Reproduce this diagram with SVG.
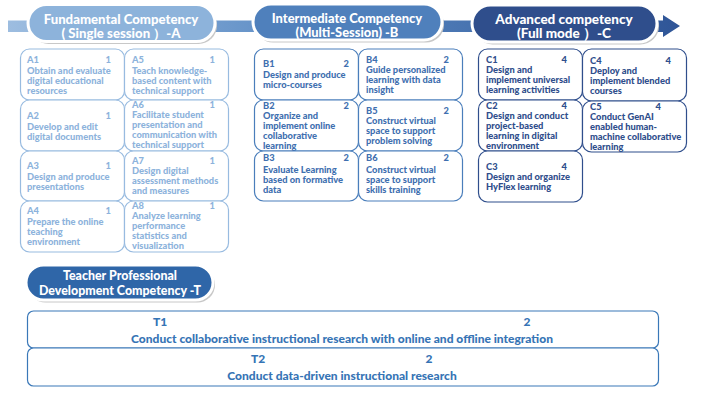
<svg xmlns="http://www.w3.org/2000/svg" width="703" height="404" viewBox="0 0 703 404">
<defs>
<linearGradient id="barg" x1="0" y1="0" x2="1" y2="0">
<stop offset="0" stop-color="#9dbde0"/>
<stop offset="0.45" stop-color="#5b8bc4"/>
<stop offset="1" stop-color="#2f5597"/>
</linearGradient>
<style>
text{font-family:Lato,"Liberation Sans",sans-serif;font-weight:900;}
.pt{fill:#ffffff;font-size:13.2px;text-anchor:middle;}
.pill{stroke:#ffffff;stroke-width:3;}
.sh{fill:#c8c8c8;}
.bx{fill:#ffffff;stroke-width:1.2;}
.ta{fill:#8db3dc;font-size:9.3px;}
.tb{fill:#3f70b0;font-size:9.3px;}
.tc{fill:#2f4e8c;font-size:9.3px;}
.ba{stroke:#98bbe0;}
.bb{stroke:#4a7ebb;}
.bc{stroke:#2f4e8c;}
.tt{fill:#3674b5;font-size:12px;}
.tbx{fill:#ffffff;stroke:#3a78b8;stroke-width:1.2;}
.n{text-anchor:end;}
</style>
</defs>
<rect width="703" height="404" fill="#ffffff"/>
<g id="connectors">
<path d="M8,20.5 H663 V15 L680,26 L663,37 V32 H8 Z" fill="url(#barg)"/>
</g>
<g id="pillA">
<rect class="sh" x="30" y="7" width="187" height="37" rx="18.5"/>
<rect class="pill" x="28" y="4.5" width="187" height="37" rx="18.5" fill="#8db3db"/>
<text class="pt" x="121" y="23.5">Fundamental Competency</text>
<text class="pt" x="121" y="38">( Single session ）-A</text>
</g>
<g id="pillB">
<rect class="sh" x="255" y="6.5" width="189" height="36" rx="18"/>
<rect class="pill" x="253" y="4" width="189" height="36" rx="18" fill="#4f80bc"/>
<text class="pt" x="347" y="22.5" style="font-size:12.9px">Intermediate Competency</text>
<text class="pt" x="347" y="37" style="font-size:12.9px">(Multi-Session)  -B</text>
</g>
<g id="pillC">
<rect class="sh" x="474" y="7.5" width="185" height="37" rx="18.5"/>
<rect class="pill" x="472" y="5" width="185" height="37" rx="18.5" fill="#2f4e8c"/>
<text class="pt" x="564" y="23.5" style="font-size:13.5px">Advanced competency</text>
<text class="pt" x="564" y="38" style="font-size:13.5px">(Full mode ）-C</text>
</g>

<g id="A1"><rect class="bx ba" x="20.5" y="49" width="104" height="51" rx="9"/>
<text class="ta" x="27" y="63">A1</text><text class="ta n" x="111" y="63">1</text>
<text class="ta" x="27" y="74">Obtain and evaluate</text><text class="ta" x="27" y="84">digital educational</text><text class="ta" x="27" y="94">resources</text></g>
<g id="A5"><rect class="bx ba" x="124.5" y="49" width="104" height="51" rx="9"/>
<text class="ta" x="132" y="63">A5</text><text class="ta n" x="215" y="63">1</text>
<text class="ta" x="132" y="74">Teach knowledge-</text><text class="ta" x="132" y="84">based content  with</text><text class="ta" x="132" y="94">technical support</text></g>
<g id="A2"><rect class="bx ba" x="20.5" y="100" width="104" height="51" rx="9"/>
<text class="ta" x="27" y="119">A2</text><text class="ta n" x="111" y="119">1</text>
<text class="ta" x="27" y="130">Develop and edit</text><text class="ta" x="27" y="140">digital  documents</text></g>
<g id="A6"><rect class="bx ba" x="124.5" y="100" width="104" height="51" rx="9"/>
<text class="ta" x="132" y="108">A6</text><text class="ta n" x="215" y="108">1</text>
<text class="ta" x="132" y="118">Facilitate student</text><text class="ta" x="132" y="128">presentation and</text><text class="ta" x="132" y="138">communication with</text><text class="ta" x="132" y="148">technical support</text></g>
<g id="A3"><rect class="bx ba" x="20.5" y="151" width="104" height="50" rx="9"/>
<text class="ta" x="27" y="169">A3</text><text class="ta n" x="111" y="169">1</text>
<text class="ta" x="27" y="180">Design and produce</text><text class="ta" x="27" y="190">presentations</text></g>
<g id="A7"><rect class="bx ba" x="124.5" y="151" width="104" height="50" rx="9"/>
<text class="ta" x="132" y="164">A7</text><text class="ta n" x="215" y="164">1</text>
<text class="ta" x="132" y="174">Design digital</text><text class="ta" x="132" y="184">assessment methods</text><text class="ta" x="132" y="194">and measures</text></g>
<g id="A4"><rect class="bx ba" x="20.5" y="201" width="104" height="51" rx="9"/>
<text class="ta" x="27" y="214">A4</text><text class="ta n" x="111" y="214">1</text>
<text class="ta" x="27" y="225">Prepare the online</text><text class="ta" x="27" y="235">teaching</text><text class="ta" x="27" y="245">environment</text></g>
<g id="A8"><rect class="bx ba" x="124.5" y="201" width="104" height="51" rx="9"/>
<text class="ta" x="132" y="209">A8</text><text class="ta n" x="215" y="209">1</text>
<text class="ta" x="132" y="219">Analyze learning</text><text class="ta" x="132" y="229">performance</text><text class="ta" x="132" y="239">statistics and</text><text class="ta" x="132" y="249">visualization</text></g>

<g id="B1"><rect class="bx bb" x="254.5" y="49" width="104" height="51" rx="9"/>
<text class="tb" x="263" y="67">B1</text><text class="tb n" x="349" y="67">2</text>
<text class="tb" x="263" y="78">Design and produce</text><text class="tb" x="263" y="88">micro-courses</text></g>
<g id="B4"><rect class="bx bb" x="358.5" y="49" width="104" height="51" rx="9"/>
<text class="tb" x="366" y="63">B4</text><text class="tb n" x="449" y="63">2</text>
<text class="tb" x="366" y="73">Guide personalized</text><text class="tb" x="366" y="83">learning with data</text><text class="tb" x="366" y="93">insight</text></g>
<g id="B2"><rect class="bx bb" x="254.5" y="100" width="104" height="51" rx="9"/>
<text class="tb" x="263" y="109">B2</text><text class="tb n" x="349" y="109">2</text>
<text class="tb" x="263" y="119">Organize and</text><text class="tb" x="263" y="129">implement online</text><text class="tb" x="263" y="139">collaborative</text><text class="tb" x="263" y="149">learning</text></g>
<g id="B5"><rect class="bx bb" x="358.5" y="100" width="104" height="51" rx="9"/>
<text class="tb" x="366" y="114">B5</text><text class="tb n" x="449" y="114">2</text>
<text class="tb" x="366" y="124">Construct virtual</text><text class="tb" x="366" y="134">space to support</text><text class="tb" x="366" y="144">problem solving</text></g>
<g id="B3"><rect class="bx bb" x="254.5" y="151" width="104" height="50" rx="9"/>
<text class="tb" x="263" y="161">B3</text><text class="tb n" x="349" y="161">2</text>
<text class="tb" x="263" y="173">Evaluate Learning</text><text class="tb" x="263" y="183">based on formative</text><text class="tb" x="263" y="193">data</text></g>
<g id="B6"><rect class="bx bb" x="358.5" y="151" width="104" height="50" rx="9"/>
<text class="tb" x="366" y="161">B6</text><text class="tb n" x="449" y="161">2</text>
<text class="tb" x="366" y="173">Construct virtual</text><text class="tb" x="366" y="183">space to support</text><text class="tb" x="366" y="193">skills training</text></g>

<g id="C1"><rect class="bx bc" x="478.5" y="49" width="104" height="51" rx="9"/>
<text class="tc" x="486" y="63">C1</text><text class="tc n" x="567" y="63">4</text>
<text class="tc" x="486" y="73">Design and</text><text class="tc" x="486" y="83">implement universal</text><text class="tc" x="486" y="93">learning activities</text></g>
<g id="C4"><rect class="bx bc" x="582.5" y="49" width="104" height="52" rx="9"/>
<text class="tc" x="590" y="64">C4</text><text class="tc n" x="671" y="64">4</text>
<text class="tc" x="590" y="74">Deploy and</text><text class="tc" x="590" y="84">implement blended</text><text class="tc" x="590" y="94">courses</text></g>
<g id="C2"><rect class="bx bc" x="478.5" y="100" width="104" height="51" rx="9"/>
<text class="tc" x="486" y="109">C2</text><text class="tc n" x="567" y="109">4</text>
<text class="tc" x="486" y="119">Design and conduct</text><text class="tc" x="486" y="129">project-based</text><text class="tc" x="486" y="139">learning in digital</text><text class="tc" x="486" y="149">environment</text></g>
<g id="C5"><rect class="bx bc" x="582.5" y="101" width="104" height="51" rx="9"/>
<text class="tc" x="590" y="110">C5</text><text class="tc n" x="661" y="110">4</text>
<text class="tc" x="590" y="120">Conduct GenAI</text><text class="tc" x="590" y="130">enabled human-</text><text class="tc" x="590" y="140">machine collaborative</text><text class="tc" x="590" y="150">learning</text></g>
<g id="C3"><rect class="bx bc" x="478.5" y="151" width="104" height="51" rx="9"/>
<text class="tc" x="486" y="170">C3</text><text class="tc n" x="567" y="170">4</text>
<text class="tc" x="486" y="180">Design and organize</text><text class="tc" x="486" y="190">HyFlex learning</text></g>

<g id="pillT">
<rect class="sh" x="28" y="267.5" width="187" height="35" rx="17.5"/>
<rect class="pill" x="26" y="265" width="187" height="35" rx="17.5" fill="#2f66a8"/>
<text class="pt" x="120" y="280" style="font-size:12.4px">Teacher Professional</text>
<text class="pt" x="120" y="295" style="font-size:12.4px">Development Competency -T</text>
</g>
<g id="T1"><rect class="tbx" x="27.5" y="311" width="631" height="37" rx="6"/>
<text class="tt" x="160" y="326" text-anchor="middle">T1</text><text class="tt" x="527" y="326" text-anchor="middle">2</text>
<text class="tt" x="342" y="343" text-anchor="middle">Conduct collaborative instructional research with online and offline integration</text></g>
<g id="T2"><rect class="tbx" x="27.5" y="348" width="631" height="38" rx="6"/>
<text class="tt" x="258" y="363" text-anchor="middle">T2</text><text class="tt" x="429" y="363" text-anchor="middle">2</text>
<text class="tt" x="342" y="380" text-anchor="middle">Conduct data-driven instructional research</text></g>
</svg>
